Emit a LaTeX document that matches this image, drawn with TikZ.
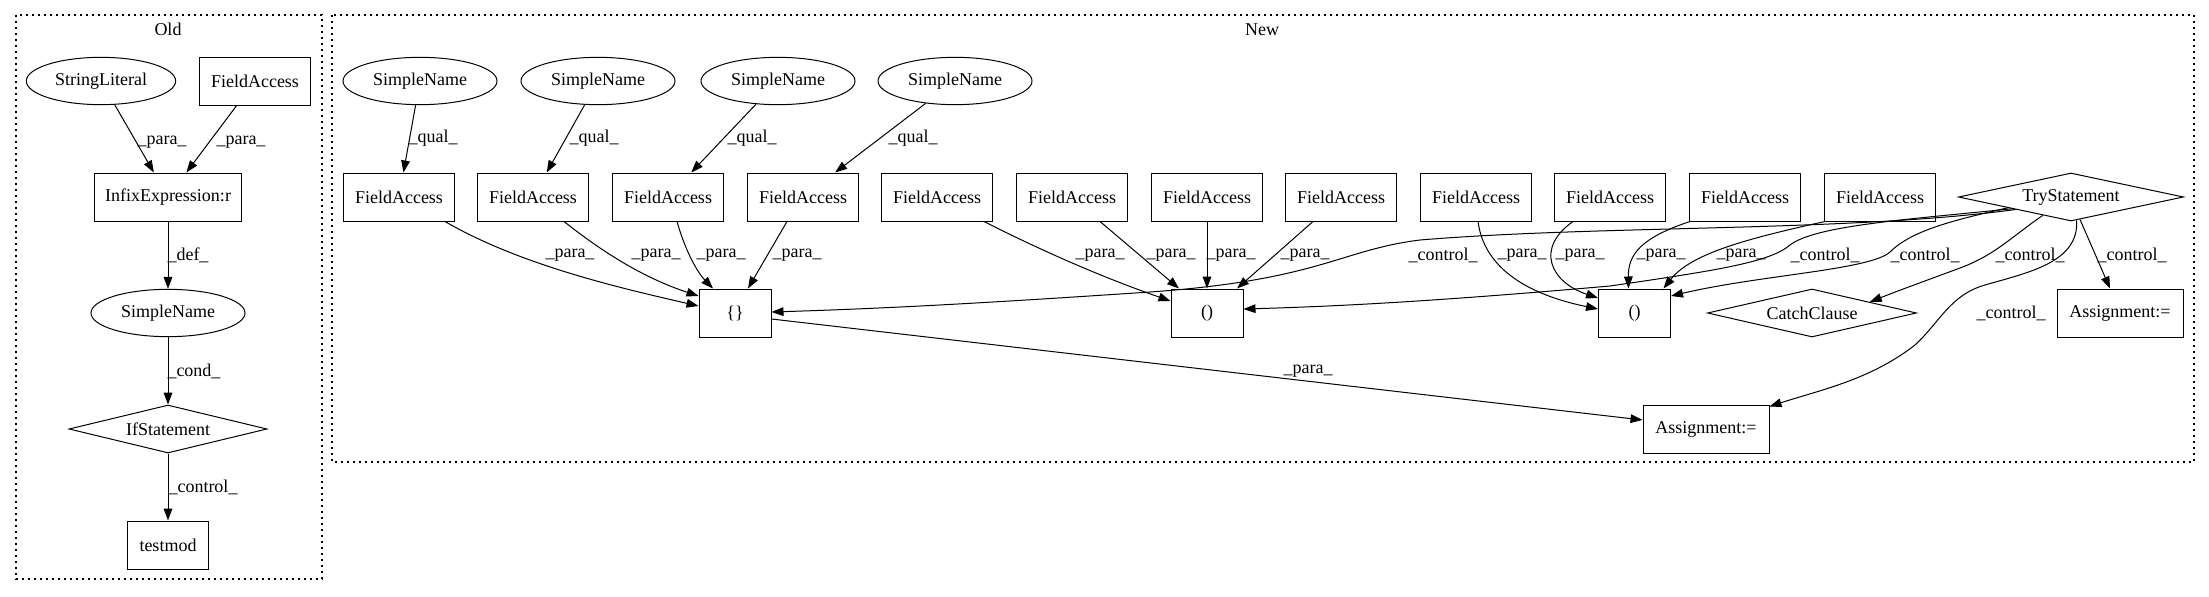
\documentclass[tikz,border=0pt]{standalone}
\usepackage{fontspec}
\setmainfont{Liberation Serif}
\usetikzlibrary{shapes.geometric,arrows.meta,calc}
\begin{document}
\begin{tikzpicture}[x=0.75pt,y=-0.75pt,
  every node/.style={font=\fontsize{13.5}{16}\selectfont, inner sep=0pt},
  box/.style={draw, line width=0.75pt, rectangle, minimum height=36pt},
  oval/.style={draw, line width=0.75pt, ellipse, minimum height=35.5pt},
  dia/.style={draw, line width=0.75pt, diamond, aspect=4.6, minimum height=36pt},
  lab/.style={},
  edge/.style={line width=0.75pt, -{Triangle[length=9pt,width=6.5pt]}},
  cluster/.style={draw, line width=0.9pt, dash pattern=on 1.2pt off 3.3pt},
]
\useasboundingbox (0,0) rectangle (2209,596);

% clusters
\draw[cluster] (16,15) rectangle (322,579);
\draw[cluster] (332,15) rectangle (2194,462);
\node (oldlab) at (168,29) {Old};
\node (newlab) at (1262,30) {New};

% Old nodes
\node[oval, minimum width=112pt] (sl) at (101,81) {StringLiteral};
\node[box, minimum width=83.25pt] (fao) at (255,81) {FieldAccess};
\node[box, minimum width=110pt] (infix) at (168,197) {InfixExpression:r};
\node[oval, minimum width=115.5pt] (sno) at (168,313) {SimpleName};
\node[dia, minimum width=148.5pt] (ifs) at (168,429) {IfStatement};
\node[box, minimum width=61pt] (tm) at (168,545) {testmod};

% Old edges
\draw[edge] (sl) -- (infix);
\draw[edge] (fao) -- (infix);
\draw[edge] (infix) -- (sno);
\draw[edge] (sno) -- (ifs);
\draw[edge] (ifs) -- (tm);
\node[lab] (lo1) at (162,142) {\_para\_};
\node[lab] (lo2) at (241,142) {\_para\_};
\node[lab] (lo3) at (188,255) {\_def\_};
\node[lab] (lo4) at (194,371) {\_cond\_};
\node[lab] (lo5) at (203,487) {\_control\_};

% New nodes: row 1
\node[oval, minimum width=115.5pt] (sn1) at (420,81) {SimpleName};
\node[oval, minimum width=115.5pt] (sn2) at (598,81) {SimpleName};
\node[oval, minimum width=115.5pt] (sn3) at (778,81) {SimpleName};
\node[oval, minimum width=115.5pt] (sn4) at (955,81) {SimpleName};
% row 2
\foreach \i/\x in {1/399,2/533,3/668,4/803,5/937,6/1072,7/1207,8/1341,9/1476,10/1610,11/1745,12/1880}
  \node[box, minimum width=83.25pt] (fa\i) at (\x,197) {FieldAccess};
\node[dia, minimum width=168.75pt] (try) at (2071,197) {TryStatement};
% row 3
\node[box, minimum width=54pt] (cb) at (735,313) {\{\}};
\node[box, minimum width=54pt] (p1) at (1207,313) {()};
\node[box, minimum width=54pt] (p2) at (1634.5,313) {()};
\node[dia, minimum width=156.75pt] (catch) at (1812,313) {CatchClause};
\node[box, minimum width=94.5pt] (asr) at (2120,313) {Assignment:=};
% row 4
\node[box, minimum width=94.5pt] (asb) at (1706,429) {Assignment:=};

% qual edges
\draw[edge] (sn1) -- (fa1);
\draw[edge] (sn2) -- (fa2);
\draw[edge] (sn3) -- (fa3);
\draw[edge] (sn4) -- (fa4);
\node[lab] (lq1) at (433,138) {\_qual\_};
\node[lab] (lq2) at (594,138) {\_qual\_};
\node[lab] (lq3) at (752,138) {\_qual\_};
\node[lab] (lq4) at (913,138) {\_qual\_};

% para edges into {}
\draw[edge] ($(fa1.south)+(46,0)$) .. controls (520,265) and (620,288) .. ($(cb.west)+(0,-7)$);
\draw[edge] ($(fa2.south)+(31,0)$) .. controls (610,258) and (650,280) .. ($(cb.west)+(0,-17)$);
\draw[edge] ($(fa3.south)+(9,0)$) .. controls (685,250) and (697,272) .. ($(cb.north)+(-22,0)$);
\draw[edge] ($(fa4.south)+(-16,0)$) -- ($(cb.north)+(13,0)$);

% para edges into ()1
\draw[edge] ($(fa5.south)+(47,0)$) .. controls (1050,255) and (1110,280) .. ($(p1.west)+(0,-12)$);
\draw[edge] ($(fa6.south)+(28,0)$) -- ($(p1.north)+(-28,0)$);
\draw[edge] (fa7.south) -- (p1.north);
\draw[edge] ($(fa8.south)+(-28,0)$) -- ($(p1.north)+(30,0)$);

% para edges into ()2
\draw[edge] ($(fa9.south)+(2,0)$) .. controls (1485,275) and (1540,297) .. ($(p2.west)+(0,-4)$);
\draw[edge] ($(fa10.south)+(-37,0)$) .. controls (1535,248) and (1550,282) .. ($(p2.west)+(0,-15)$);
\draw[edge] ($(fa11.south west)+(1,0)$) .. controls (1640,238) and (1628,255) .. ($(p2.north)+(-6,0)$);
\draw[edge] ($(fa12.south west)+(1,0)$) .. controls (1740,240) and (1690,255) .. ($(p2.north)+(29,0)$);

\node[lab] (lp1) at (570,255) {\_para\_};
\node[lab] (lp2) at (656,255) {\_para\_};
\node[lab] (lp3) at (721,255) {\_para\_};
\node[lab] (lp4) at (797,255) {\_para\_};
\node[lab] (lp5) at (1100,255) {\_para\_};
\node[lab] (lp6) at (1171,255) {\_para\_};
\node[lab] (lp7) at (1231,255) {\_para\_};
\node[lab] (lp8) at (1305,255) {\_para\_};
\node[lab] (lp9) at (1522,255) {\_para\_};
\node[lab] (lp10) at (1580,255) {\_para\_};
\node[lab] (lp11) at (1661,255) {\_para\_};
\node[lab] (lp12) at (1741,255) {\_para\_};

% control edges from TryStatement
\draw[edge] ($(try.west)!0.51!(try.south)$) .. controls (1850,232) and (1600,225) .. (1420,240)
  .. controls (1340,250) and (1320,280) .. (1150,292)
  .. controls (1000,302) and (900,308) .. ($(cb.east)+(0,-1)$);
\draw[edge] ($(try.west)!0.48!(try.south)$) .. controls (1900,220) and (1815,226) .. (1790,245)
  .. controls (1770,262) and (1720,270) .. (1610,286)
  .. controls (1450,300) and (1350,306) .. ($(p1.east)+(0,-4)$);
\draw[edge] ($(try.west)!0.44!(try.south)$) .. controls (1955,220) and (1912,230) .. (1890,252)
  .. controls (1870,270) and (1760,275) .. ($(p2.east)+(0,-17)$);
\draw[edge] ($(try.west)!0.75!(try.south)$) .. controls (2010,238) and (1995,255) .. (1960,268)
  .. controls (1925,281) and (1900,290) .. ($(catch.north)!0.55!(catch.east)$);
\draw[edge] ($(try.south)!0.05!(try.east)$) .. controls (2079,262) and (2030,272) .. (1985,285)
  .. controls (1950,295) and (1940,322) .. (1915,345)
  .. controls (1870,380) and (1820,390) .. ($(asb.north east)+(0,2)$);
\draw[edge] ($(try.south)!0.08!(try.east)$) -- ($(asr.north)+(-10,0)$);

\node[lab] (lc1) at (1443,255) {\_control\_};
\node[lab] (lc2) at (1825,255) {\_control\_};
\node[lab] (lc3) at (1925,255) {\_control\_};
\node[lab] (lc4) at (2030,255) {\_control\_};
\node[lab] (lc5) at (2132,255) {\_control\_};
\node[lab] (lc6) at (2011,313) {\_control\_};

% {} -> Assignment
\draw[edge] ($(cb.east)+(0,6)$) -- ($(asb.west)+(0,-9)$);
\node[lab] (lpa) at (1308,371) {\_para\_};
\end{tikzpicture}
\end{document}
